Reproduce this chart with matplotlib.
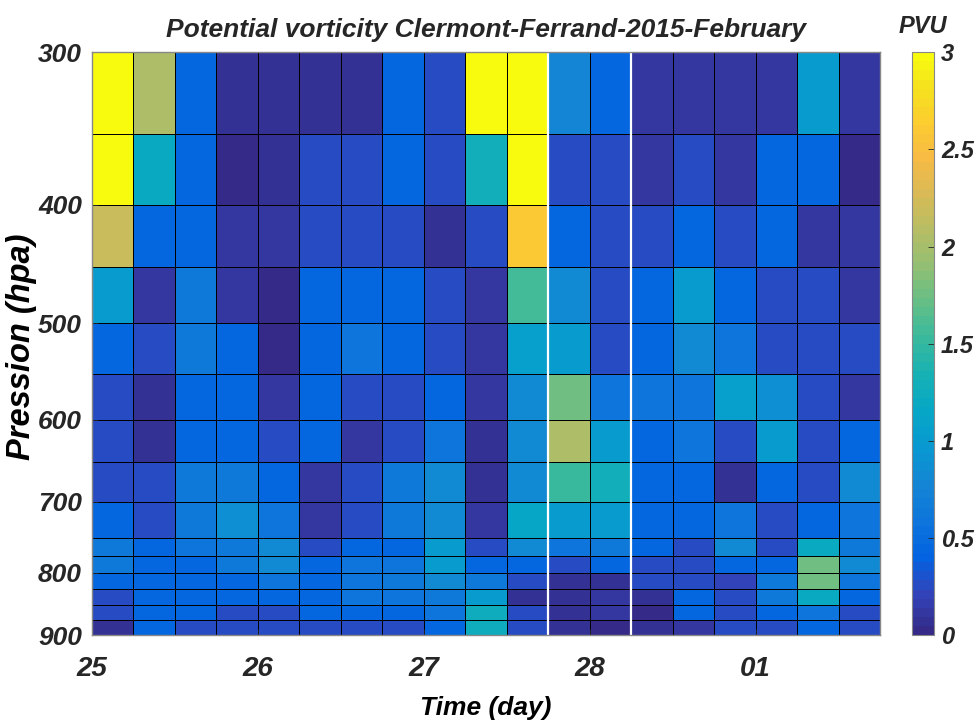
import numpy as np
import pandas as pd
import matplotlib
matplotlib.use('Agg')
import matplotlib.pyplot as plt
import matplotlib.dates as mdates
from matplotlib.colors import LinearSegmentedColormap
from matplotlib.ticker import FixedLocator, NullLocator, FixedFormatter

# cell edges: 6-hourly from 25 Feb 00:00 to 1 Mar 18:00
times = pd.date_range('2015-02-25 00:00', periods=20, freq='6h')
day_ticks = pd.date_range('2015-02-25', '2015-03-01', freq='D')
# pressure edges (hPa)
pressure = [300, 350, 400, 450, 500, 550, 600, 650, 700, 750, 775, 800, 825, 850, 875, 900]
y_ticks = [300, 400, 500, 600, 700, 800, 900]
cbar_ticks = [0, 0.5, 1, 1.5, 2, 2.5, 3]
white_lines = ['2015-02-27 18:00', '2015-02-28 06:00']

# PV values, rows from 300 hPa (top) to 900 hPa (bottom)
pv = np.array([
    [3.0, 2.05, 0.45, 0.08, 0.08, 0.08, 0.08, 0.45, 0.24, 3.0, 3.0, 0.78, 0.45, 0.1, 0.1, 0.1, 0.1, 1.0, 0.1],
    [3.0, 1.2, 0.45, 0.04, 0.08, 0.24, 0.24, 0.45, 0.24, 1.3, 3.0, 0.24, 0.24, 0.1, 0.24, 0.1, 0.45, 0.45, 0.04],
    [2.2, 0.45, 0.45, 0.1, 0.1, 0.24, 0.24, 0.24, 0.08, 0.24, 2.6, 0.45, 0.24, 0.24, 0.45, 0.24, 0.45, 0.1, 0.1],
    [1.0, 0.1, 0.65, 0.1, 0.04, 0.45, 0.45, 0.45, 0.24, 0.1, 1.55, 0.8, 0.24, 0.45, 1.0, 0.45, 0.24, 0.24, 0.12],
    [0.45, 0.24, 0.65, 0.45, 0.04, 0.45, 0.6, 0.45, 0.24, 0.1, 1.05, 1.0, 0.24, 0.45, 0.8, 0.6, 0.24, 0.24, 0.24],
    [0.24, 0.08, 0.45, 0.45, 0.1, 0.45, 0.24, 0.24, 0.45, 0.1, 0.8, 1.75, 0.6, 0.6, 0.6, 1.05, 0.85, 0.24, 0.1],
    [0.24, 0.08, 0.45, 0.45, 0.24, 0.45, 0.1, 0.24, 0.6, 0.05, 0.8, 2.05, 1.0, 0.45, 0.6, 0.24, 1.0, 0.24, 0.45],
    [0.24, 0.24, 0.65, 0.65, 0.45, 0.1, 0.24, 0.65, 0.8, 0.05, 0.8, 1.5, 1.3, 0.45, 0.45, 0.08, 0.45, 0.24, 0.8],
    [0.45, 0.24, 0.65, 0.85, 0.6, 0.1, 0.24, 0.65, 0.8, 0.1, 1.15, 1.0, 1.0, 0.45, 0.45, 0.6, 0.24, 0.45, 0.6],
    [0.65, 0.45, 0.6, 0.65, 0.8, 0.24, 0.45, 0.45, 1.0, 0.24, 0.8, 0.6, 0.65, 0.45, 0.24, 0.8, 0.24, 1.2, 0.65],
    [0.65, 0.45, 0.45, 0.65, 0.8, 0.45, 0.6, 0.6, 1.0, 0.45, 0.45, 0.24, 0.45, 0.24, 0.24, 0.45, 0.45, 1.75, 0.8],
    [0.45, 0.45, 0.45, 0.45, 0.6, 0.45, 0.6, 0.65, 0.8, 0.65, 0.24, 0.08, 0.08, 0.24, 0.24, 0.22, 0.65, 1.75, 0.6],
    [0.24, 0.45, 0.45, 0.45, 0.45, 0.45, 0.6, 0.6, 0.65, 1.0, 0.08, 0.08, 0.1, 0.08, 0.45, 0.24, 0.65, 1.2, 0.45],
    [0.24, 0.45, 0.45, 0.24, 0.24, 0.45, 0.45, 0.45, 0.6, 1.25, 0.24, 0.08, 0.1, 0.03, 0.45, 0.24, 0.45, 0.6, 0.24],
    [0.05, 0.45, 0.24, 0.24, 0.24, 0.24, 0.24, 0.24, 0.45, 1.25, 0.24, 0.08, 0.03, 0.05, 0.1, 0.24, 0.24, 0.45, 0.24],
])

# MATLAB parula, sampled
parula_pts = [
    (0.2081, 0.1663, 0.5292), (0.1959, 0.2645, 0.7279), (0.0117, 0.3875, 0.8820),
    (0.0498, 0.4586, 0.8641), (0.0793, 0.5200, 0.8312), (0.0343, 0.5966, 0.8199),
    (0.0228, 0.6535, 0.7768), (0.0843, 0.6928, 0.7062), (0.2178, 0.7250, 0.6193),
    (0.3953, 0.7459, 0.5244), (0.5709, 0.7485, 0.4494), (0.7184, 0.7411, 0.3905),
    (0.8507, 0.7299, 0.3360), (0.9739, 0.7314, 0.2666), (0.9880, 0.8066, 0.1794),
    (0.9589, 0.8949, 0.1132), (0.9763, 0.9831, 0.0538),
]
pos = [i * 4 / 63 for i in range(16)] + [1.0]
parula = LinearSegmentedColormap.from_list('parula', list(zip(pos, parula_pts)), N=64)

plt.rcParams['font.family'] = ['Liberation Sans', 'DejaVu Sans']
plt.rcParams['font.weight'] = 'bold'
plt.rcParams['font.style'] = 'italic'
plt.rcParams['text.color'] = '#262626'
plt.rcParams['xtick.color'] = '#262626'
plt.rcParams['ytick.color'] = '#262626'

fig = plt.figure(figsize=(9.78, 7.26), dpi=100)
ax = fig.add_axes([0.0938, 0.1253, 0.806, 0.8027])

x = mdates.date2num(times.to_pydatetime())
mesh = ax.pcolormesh(x, pressure, pv, cmap=parula, vmin=0, vmax=3,
                     edgecolors='black', linewidth=0.6)
for t in white_lines:
    ax.axvline(mdates.date2num(pd.Timestamp(t)), color='white', lw=1.6)

ax.set_yscale('log')
ax.set_ylim(pressure[-1], pressure[0])
ax.set_xlim(x[0], x[-1])
ax.yaxis.set_major_locator(FixedLocator(y_ticks))
ax.yaxis.set_major_formatter(FixedFormatter([str(v) for v in y_ticks]))
ax.yaxis.set_minor_locator(NullLocator())
ax.xaxis.set_major_locator(FixedLocator(mdates.date2num(day_ticks.to_pydatetime())))
ax.xaxis.set_major_formatter(mdates.DateFormatter('%d'))
ax.tick_params(axis='both', direction='in', length=4, width=0.6)
ax.tick_params(axis='x', pad=15, labelsize=20)
ax.tick_params(axis='y', pad=7, labelsize=19)
for s in ax.spines.values():
    s.set_color('#888888')
    s.set_linewidth(1.0)

ax.set_title('Potential vorticity Clermont-Ferrand-2015-February', fontsize=19,
             fontweight='bold', pad=11)
ax.set_xlabel('Time (day)', fontsize=19, fontweight='bold', labelpad=10)
ax.set_ylabel('Pression (hpa)', fontsize=23.5, fontweight='bold')
ax.yaxis.set_label_coords(-0.069, 0.494)

cax = fig.add_axes([0.9325, 0.1253, 0.0225, 0.8027])
cb = fig.colorbar(mesh, cax=cax, ticks=cbar_ticks)
cb.ax.set_yticklabels(['%g' % t for t in cbar_ticks])
cb.ax.tick_params(labelsize=17, length=4, width=0.6, direction='in', pad=5)
cb.outline.set_edgecolor('#888888')
fig.text(0.9435, 0.964, 'PVU', ha='center', va='center', fontsize=17, fontweight='bold')

fig.savefig('out.png', dpi=100)
